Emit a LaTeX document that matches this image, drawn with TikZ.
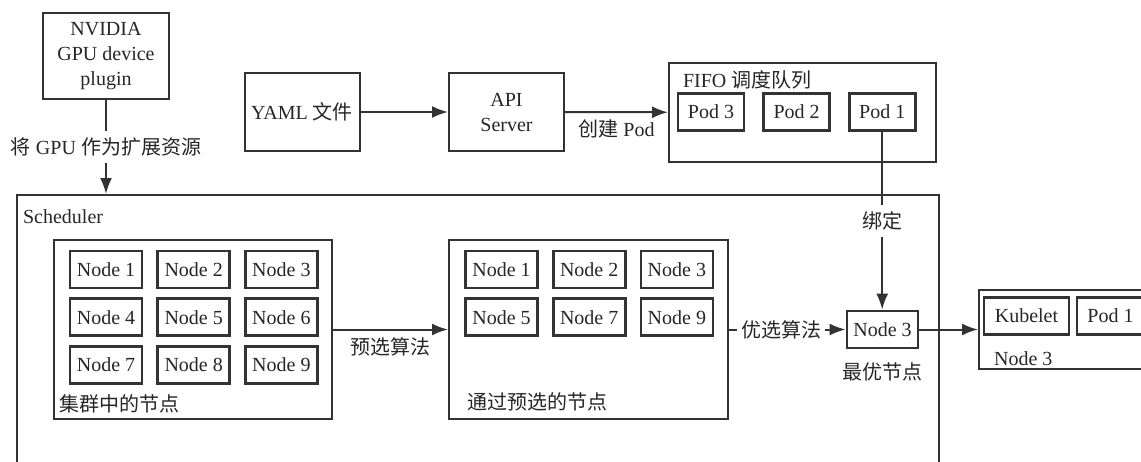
\documentclass[tikz,border=0pt]{standalone}
\usepackage{fontspec}
\setmainfont{Liberation Serif}
\newfontfamily\cjk{Noto Sans CJK SC}
\newcommand{\zh}[1]{{\cjk #1}}
\usetikzlibrary{arrows.meta, positioning}

\begin{document}
\begin{tikzpicture}[
	x=0.5pt, y=-0.5pt,
	node distance = 3.95pt and 6.45pt,
	every node/.style = {text=black!85, font=\fontsize{10}{12.5}\selectfont},
	frame/.style = {rectangle, draw=black!80, line width=1pt},
	box/.style = {rectangle, draw=black!80, line width=1pt, text centered, align=center},
	cell/.style = {rectangle, draw=black!80, line width=1.4pt, minimum width=36pt, minimum height=18.5pt, inner sep=1pt},
	tag/.style = {anchor=west},
	line/.style = {draw=black!80, line width=1pt, -{Latex[length=8pt,width=6pt]}}
	]
	\clip (0,0) rectangle (1141,461);
	
	% Sources
	\node [box, minimum width=63pt, minimum height=43pt] (nvidia) at (106,56) {NVIDIA\\GPU device\\plugin};
	\node [box, minimum width=57pt, minimum height=39pt] (yaml) at (302,112) {YAML \zh{文件}};
	\node [box, minimum width=57.5pt, minimum height=39pt] (api) at (506.5,112) {API\\Server};
	
	% Queue
	\node [frame, minimum width=133.5pt, minimum height=49.5pt] (fifo) at (802.5,112.5) {};
	\node [tag] (fifotitle) at (676,80) {FIFO \zh{调度队列}};
	\node [cell, minimum width=33pt] (pod3) at (711,112) {Pod 3};
	\node [cell, minimum width=33pt, right=8.4pt of pod3] (pod2) {Pod 2};
	\node [cell, minimum width=33pt, right=8.4pt of pod2] (pod1) {Pod 1};
	
	% Scheduler
	\node [frame, minimum width=461pt, minimum height=147.5pt] (sched) at (478,342.5) {};
	\node [tag] (schedtitle) at (16,217) {Scheduler};
	
	% All nodes of the cluster
	\node [frame, minimum width=139pt, minimum height=89.5pt] (cluster) at (193,329.5) {};
	\node [tag] (clustertitle) at (52,404) {\zh{集群中的节点}};
	\node [cell] (c1) at (106,269.5) {Node 1};
	\node [cell, right=of c1] (c2) {Node 2};
	\node [cell, right=of c2] (c3) {Node 3};
	\node [cell, below=of c1] (c4) {Node 4};
	\node [cell, right=of c4] (c5) {Node 5};
	\node [cell, right=of c5] (c6) {Node 6};
	\node [cell, below=of c4] (c7) {Node 7};
	\node [cell, right=of c7] (c8) {Node 8};
	\node [cell, right=of c8] (c9) {Node 9};
	
	% Nodes that passed the predicates
	\node [frame, minimum width=139.5pt, minimum height=89.5pt] (passed) at (588.5,329.5) {};
	\node [tag] (passedtitle) at (460,402) {\zh{通过预选的节点}};
	\node [cell] (p1) at (501.5,269.5) {Node 1};
	\node [cell, right=of p1] (p2) {Node 2};
	\node [cell, right=of p2] (p3) {Node 3};
	\node [cell, below=of p1] (p5) {Node 5};
	\node [cell, right=of p5] (p7) {Node 7};
	\node [cell, right=of p7] (p9) {Node 9};
	
	% Best node
	\node [cell, minimum width=35.5pt] (best) at (882.5,329.5) {Node 3};
	\node [below=3pt of best] (besttitle) {\zh{最优节点}};
	
	% Target node
	\node [frame, minimum width=90pt, minimum height=39.5pt] (target) at (1069,329.5) {};
	\node [cell, minimum width=42.5pt] (kubelet) at (1026.5,316) {Kubelet};
	\node [cell, minimum width=33.5pt, right=2.6pt of kubelet] (podrun) {Pod 1};
	\node [tag] (targettitle) at (987,359) {Node 3};
	
	% Lines
	\path [line] (nvidia.south) -- node[fill=white] {\zh{将} GPU \zh{作为扩展资源}} (nvidia.south |- sched.north);
	\path [line] (yaml) -- (api);
	\path [line] (api) -- node[below] {\zh{创建} Pod} (fifo);
	\path [line] (pod1) -- node[fill=white] {\zh{绑定}} (pod1 |- best.north);
	\path [line] (cluster) -- node[below] {\zh{预选算法}} (passed);
	\path [line] (passed) -- node[fill=white, inner sep=2pt, pos=0.45] {\zh{优选算法}} (best);
	\path [line] (best) -- (target);
\end{tikzpicture}
\end{document}
